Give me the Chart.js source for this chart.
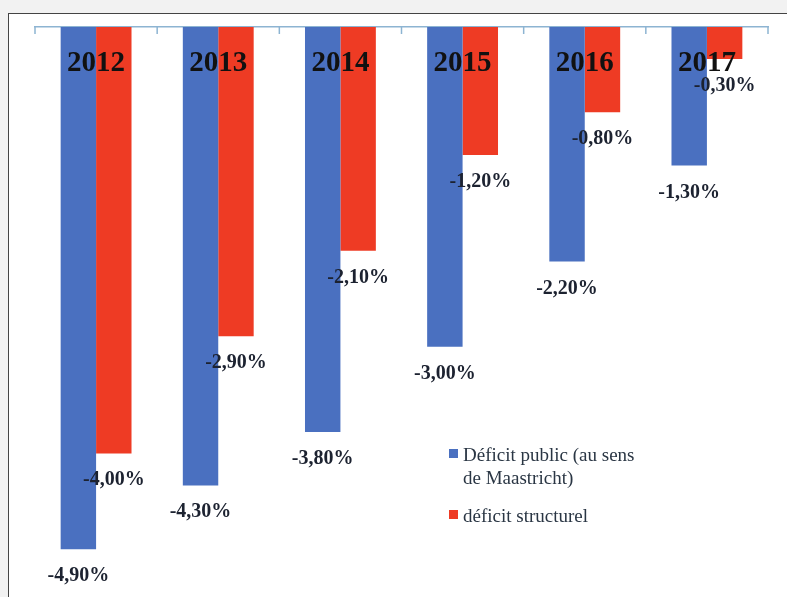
<!DOCTYPE html>
<html>
<head>
<meta charset="utf-8">
<script src="https://cdn.jsdelivr.net/npm/chart.js@4"></script>
<style>
  html, body { margin: 0; padding: 0; }
  body { width: 787px; height: 597px; background: #f2f2f2; position: relative; overflow: hidden; }
  #frame { position: absolute; left: 8px; top: 13px; width: 800px; height: 600px; background: #fff; border: 1.5px solid #444; box-sizing: border-box; }
  #wrap { position: absolute; left: 0; top: 0; width: 787px; height: 597px; }
  .legend { position: absolute; left: 449px; font-family: "Liberation Serif", serif; font-size: 19px; color: #2a3644; line-height: 23px; }
  .legend .sw { position: absolute; left: 0; top: 6px; width: 9px; height: 9px; }
  .legend .txt { margin-left: 14px; width: 185px; }
</style>
</head>
<body>
<div id="frame"></div>
<div id="wrap"><canvas id="deficitChart" width="787" height="597"></canvas></div>
<div class="legend" style="top:443px"><div class="sw" style="background:#4a70c0"></div><div class="txt">Déficit public (au sens de Maastricht)</div></div>
<div class="legend" style="top:504px"><div class="sw" style="background:#ee3b24"></div><div class="txt">déficit structurel</div></div>
<script>
const years = ['2012', '2013', '2014', '2015', '2016', '2017']
const deficitPublic = [-4.9, -4.3, -3.8, -3.0, -2.2, -1.3]
const deficitStructurel = [-4.0, -2.9, -2.1, -1.2, -0.8, -0.3]

function fmtPct(v){
    return v.toFixed(2).replace('.', ',') + '%'
}

// small tick marks hanging under the top axis line, between categories
const axisTicks = {
    id: 'axisTicks',
    beforeDatasetsDraw(chart){
        const ctx = chart.ctx
        const xScale = chart.scales.x
        const top = chart.chartArea.top
        ctx.save()
        ctx.strokeStyle = '#8db4d2'
        ctx.lineWidth = 1.5
        for (let i = 0; i <= years.length; i++) {
            const px = xScale.getPixelForValue(i - 0.5)
            ctx.beginPath()
            ctx.moveTo(px, top)
            ctx.lineTo(px, top + 7)
            ctx.stroke()
        }
        ctx.restore()
    }
}

const labelPlugin = {
    id: 'barLabels',
    afterDatasetsDraw(chart){
        const ctx = chart.ctx
        const xScale = chart.scales.x
        ctx.save()
        ctx.textAlign = 'center'
        ctx.textBaseline = 'alphabetic'
        ctx.fillStyle = '#111111'
        ctx.font = 'bold 29px "Liberation Serif"'
        years.forEach((y, i) => {
            ctx.fillText(y, xScale.getPixelForValue(i), 71)
        })
        ctx.fillStyle = '#1c2230'
        ctx.font = 'bold 20px "Liberation Serif"'
        chart.data.datasets.forEach((ds, di) => {
            chart.getDatasetMeta(di).data.forEach((bar, i) => {
                ctx.fillText(fmtPct(ds.data[i]), bar.x, bar.y + 32)
            })
        })
        ctx.restore()
    }
}

const data = {
    labels: years,
    datasets: [{
        label: 'Déficit public (au sens de Maastricht)',
        backgroundColor: '#4a70c0',
        data: deficitPublic,
    }, {
        label: 'déficit structurel',
        backgroundColor: '#ee3b24',
        data: deficitStructurel,
    }]
}

const config = {
    type: 'bar',
    data: data,
    plugins: [axisTicks, labelPlugin],
    options: {
        responsive: false,
        animation: false,
        layout: {
            padding: { left: 35, right: 19, top: 27, bottom: 37 }
        },
        datasets: {
            bar: { barPercentage: 1, categoryPercentage: 0.58 }
        },
        plugins: {
            legend: { display: false },
            tooltip: { enabled: false }
        },
        scales: {
            x: {
                position: 'top',
                grid: { drawOnChartArea: false, drawTicks: false },
                border: { display: true, color: '#8db4d2', width: 1.5 },
                ticks: { display: false }
            },
            y: {
                display: false,
                min: -5,
                max: 0
            }
        }
    }
}

const myChart = new Chart(
    document.getElementById('deficitChart'),
    config
)
</script>
</body>
</html>
